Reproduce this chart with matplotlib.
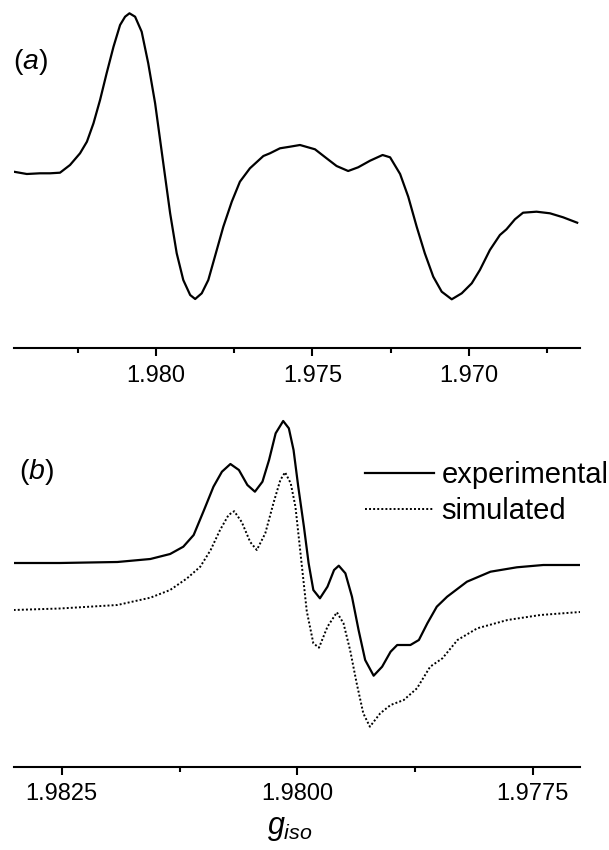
import matplotlib
matplotlib.use("Agg")
import matplotlib.pyplot as plt
from matplotlib.ticker import FixedLocator

plt.rcParams['font.family'] = ['Liberation Sans', 'DejaVu Sans']
plt.rcParams['mathtext.fontset'] = 'custom'
plt.rcParams['mathtext.rm'] = 'Liberation Sans'
plt.rcParams['mathtext.it'] = 'Liberation Sans:italic'

# ---------------- data: panel (a) ----------------
g_a = [1.98455, 1.98413, 1.98371, 1.98339, 1.98307, 1.98275, 1.98243, 1.98221,
       1.98200, 1.98179, 1.98158, 1.98136, 1.98115, 1.98099, 1.98085, 1.98067,
       1.98046, 1.98025, 1.98003, 1.97987, 1.97971, 1.97955, 1.97934, 1.97913,
       1.97891, 1.97875, 1.97854, 1.97833, 1.97812, 1.97785, 1.97758, 1.97732,
       1.97700, 1.97657, 1.97636, 1.97604, 1.97572, 1.97540, 1.97492, 1.97455,
       1.97423, 1.97386, 1.97354, 1.97316, 1.97276, 1.97252, 1.97220, 1.97194,
       1.97167, 1.97141, 1.97114, 1.97087, 1.97055, 1.97023, 1.96991, 1.96965,
       1.96933, 1.96901, 1.96880, 1.96853, 1.96827, 1.96784, 1.96741, 1.96699,
       1.96654]
I_a = [0.3, -2, -1.3, -1.3, -0.7, 7, 18.7, 30.3,
       48.7, 72, 98.7, 125.3, 147, 155.3, 158.7, 155.3,
       140.3, 108.7, 68.7, 32, -4.7, -41.3, -81.3, -108,
       -123, -127, -121.3, -108, -84.7, -54.7, -29.7, -9.7,
       3.7, 16, 18.7, 23.7, 25.3, 27, 22.7, 13.7,
       6, 1, 4.7, 11.3, 17, 14.7, -2, -24.7,
       -54.7, -81.3, -104.7, -119.7, -127.3, -121.3, -111.3, -98,
       -78, -63, -57.3, -47.3, -40.7, -39.7, -41.3, -45.3,
       -50.7]

# ---------------- data: panel (b) ----------------
g_exp = [1.98301, 1.98252, 1.98191, 1.98156, 1.98135, 1.98121, 1.98110, 1.98099,
         1.98089, 1.98080, 1.98071, 1.98062, 1.98053, 1.98045, 1.98037, 1.98030,
         1.98023, 1.98015, 1.98009, 1.98004, 1.97999, 1.97993, 1.97988, 1.97983,
         1.97976, 1.97968, 1.97961, 1.97956, 1.97949, 1.97942, 1.97935, 1.97928,
         1.97919, 1.97910, 1.97901, 1.97894, 1.97880, 1.97871, 1.97862, 1.97852,
         1.97841, 1.97820, 1.97795, 1.97767, 1.97739, 1.97700]
I_exp = [0, 0, 1, 4, 9, 16.3, 28, 53,
         76.3, 91.3, 99, 93, 78, 71.3, 81.3, 103,
         129.7, 142, 134.7, 113, 76.3, 36.3, -0.3, -27,
         -35.3, -23.7, -7, -2.7, -10.3, -33.7, -67, -97,
         -112.7, -103.7, -88.7, -82, -82, -77, -60.3, -43.7,
         -33.7, -18.7, -8.7, -4.3, -2, -2]

g_sim = [1.98301, 1.98252, 1.98191, 1.98156, 1.98135, 1.98117, 1.98103, 1.98092,
         1.98082, 1.98073, 1.98067, 1.98059, 1.98050, 1.98043, 1.98034, 1.98025,
         1.98018, 1.98013, 1.98007, 1.98002, 1.97997, 1.97990, 1.97983, 1.97977,
         1.97968, 1.97958, 1.97951, 1.97944, 1.97937, 1.97930, 1.97923, 1.97912,
         1.97901, 1.97887, 1.97873, 1.97859, 1.97846, 1.97830, 1.97809, 1.97777,
         1.97742, 1.97700]
I_sim = [-47, -45.5, -42, -34.7, -27, -15.3, -3.7, 13,
         33, 48, 51.8, 41, 21, 13, 29.7, 61,
         83, 90.7, 79.7, 56.3, 13, -48, -80.3, -84.7,
         -63.7, -49.3, -60.3, -87, -120.3, -150.3, -163.7, -150.3,
         -142, -137, -125.3, -103.7, -95.3, -77, -65.3, -57,
         -52, -49]

ticks_a_major = [1.980, 1.975, 1.970]
ticks_a_minor = [1.9825, 1.9775, 1.9725, 1.9675]
ticks_b_major = [1.9825, 1.9800, 1.9775]
ticks_b_minor = [1.98125, 1.97875]
labels_a = ["1.980", "1.975", "1.970"]
labels_b = ["1.9825", "1.9800", "1.9775"]
series_names = ["experimental", "simulated"]

W, H = 609, 850
fig = plt.figure(figsize=(W / 100, H / 100), dpi=100)

def px_axes(x0, y_top, x1, y_bot):
    return fig.add_axes([x0 / W, 1 - y_bot / H, (x1 - x0) / W, (y_bot - y_top) / H])

def style(ax, major, minor, labels, pad):
    for s in ("top", "left", "right"):
        ax.spines[s].set_visible(False)
    ax.spines["bottom"].set_linewidth(1.5)
    ax.set_yticks([])
    ax.xaxis.set_major_locator(FixedLocator(major))
    ax.xaxis.set_minor_locator(FixedLocator(minor))
    ax.set_xticklabels(labels)
    ax.tick_params(axis="x", which="major", direction="out", length=5.5, width=1.5,
                   labelsize=17, pad=pad)
    ax.tick_params(axis="x", which="minor", direction="out", length=3.5, width=1.5)

# panel (a)
ax1 = px_axes(13.7, 5, 580, 348)
ax1.plot(g_a, I_a, color="black", lw=1.6, solid_joinstyle="round")
ax1.set_xlim(1.98455, 1.96645)
ax1.set_ylim(-176, 167)
style(ax1, ticks_a_major, ticks_a_minor, labels_a, 7)
fig.text(13 / W, 1 - 62 / H, r"($a$)", fontsize=20.5, va="center", ha="left")

# panel (b)
ax2 = px_axes(13.7, 405, 580, 767)
ax2.plot(g_exp, I_exp, color="black", lw=1.6, solid_joinstyle="round",
         label=series_names[0])
ax2.plot(g_sim, I_sim, color="black", lw=1.4, linestyle=(0, (1, 1.1)),
         label=series_names[1])
ax2.set_xlim(1.98301, 1.97700)
ax2.set_ylim(-204, 158)
style(ax2, ticks_b_major, ticks_b_minor, labels_b, 6)
fig.text(19 / W, 1 - 472 / H, r"($b$)", fontsize=20.5, va="center", ha="left")

leg = ax2.legend(loc="upper left", bbox_to_anchor=(365 / W, 1 - 461 / H),
                 bbox_transform=fig.transFigure, frameon=False, fontsize=21,
                 handlelength=2.35, handletextpad=0.28, labelspacing=0.27,
                 borderpad=0, borderaxespad=0)

fig.text(290 / W, 1 - 828 / H, r"$g_{iso}$", fontsize=22, ha="center", va="center")

fig.savefig("out.png", dpi=100)
